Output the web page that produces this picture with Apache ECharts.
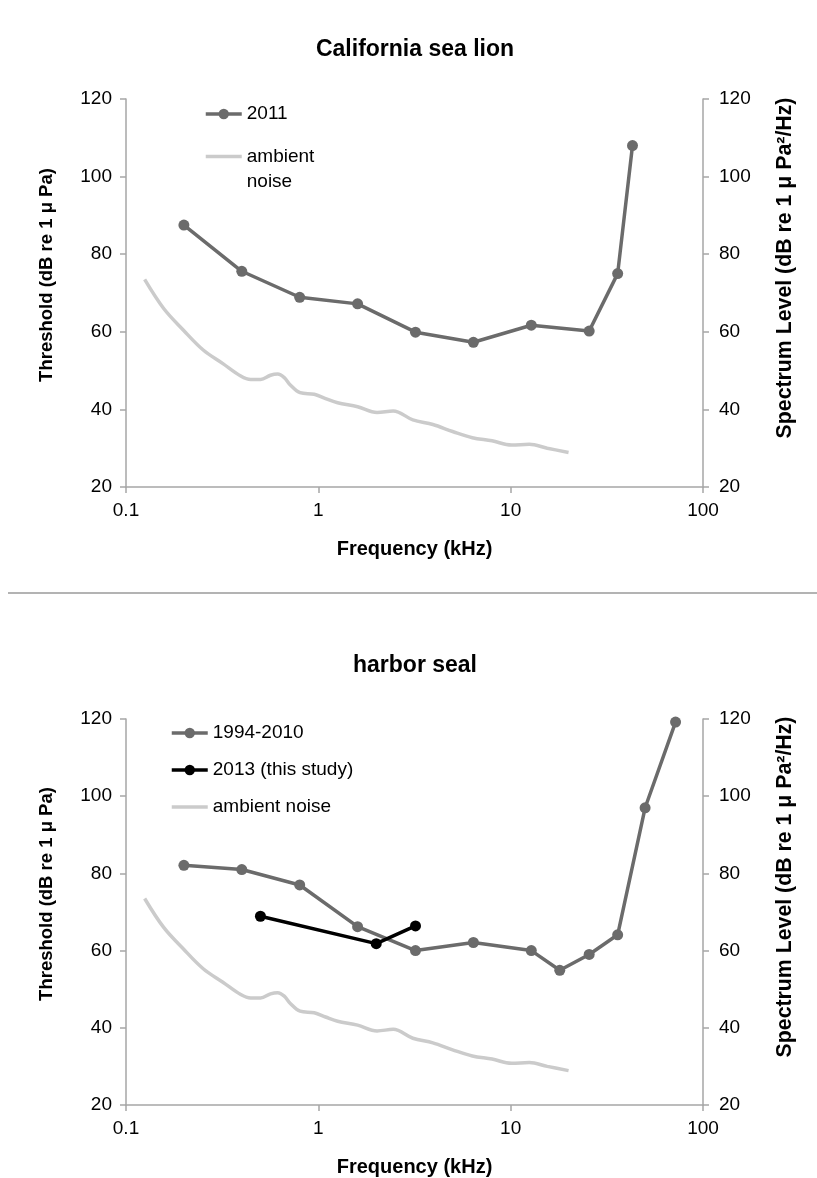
<!DOCTYPE html>
<html>
<head>
<meta charset="utf-8">
<script src="https://cdn.jsdelivr.net/npm/echarts@6/dist/echarts.min.js"></script>
<style>
  html, body { margin: 0; padding: 0; background: #fff; }
  #chart { width: 817px; height: 1178px; }
</style>
</head>
<body>
<div id="chart"></div>
<script>
// Hearing thresholds (dB re 1 µPa) and ambient noise spectrum level, by frequency (kHz)
const seaLionFreq = [0.2, 0.4, 0.8, 1.6, 3.2, 6.4, 12.8, 25.6, 36, 43];
const seaLion2011 = [87.5, 75.6, 68.9, 67.2, 59.9, 57.3, 61.7, 60.2, 75.0, 108];

const sealFreq = [0.2, 0.4, 0.8, 1.6, 3.2, 6.4, 12.8, 18, 25.6, 36, 50, 72];
const seal1994to2010 = [82.1, 81.0, 77.0, 66.2, 60.0, 62.1, 60.0, 54.9, 59.0, 64.1, 97.0, 119.2];

const seal2013Freq = [0.5, 2, 3.2];
const seal2013 = [68.9, 61.8, 66.4];

const noiseFreq = [0.125, 0.157, 0.199, 0.252, 0.319, 0.395, 0.445, 0.501, 0.564, 0.615,
                   0.665, 0.715, 0.804, 0.952, 1.09, 1.26, 1.6, 2.02, 2.45, 3.1,
                   3.94, 4.99, 6.32, 8.0, 10.1, 12.5, 15.5, 20];
const noiseLevel = [73.5, 66.0, 60.4, 55.3, 51.8, 48.6, 47.7, 47.7, 48.8, 49.1,
                    48.2, 46.3, 44.3, 43.9, 42.8, 41.7, 40.7, 39.2, 39.6, 37.3,
                    36.1, 34.3, 32.7, 31.9, 30.8, 31.0, 30.0, 28.9];

const panelTitles = ['California sea lion', 'harbor seal'];
const xAxisTitle = 'Frequency (kHz)';
const leftAxisTitle = 'Threshold (dB re 1 μ Pa)';
const rightAxisTitle = 'Spectrum Level (dB re 1 μ Pa²/Hz)';

const pairs = (xs, ys) => xs.map((x, i) => [x, ys[i]]);

const FONT = '"Liberation Sans", Arial, sans-serif';
const AXIS_GRAY = '#a6a6a6';
const DARK_GRAY = '#6b6b6b';
const LIGHT_GRAY = '#cbcbcb';

const gridTops = [99, 719];

function xAxisFor(gridIndex) {
  return {
    type: 'log', logBase: 10, min: 0.1, max: 100, gridIndex,
    name: xAxisTitle, nameLocation: 'middle', nameGap: 52,
    nameTextStyle: { fontFamily: FONT, fontWeight: 'bold', fontSize: 20, color: '#000' },
    axisLine: { show: true, lineStyle: { color: AXIS_GRAY, width: 1.5 } },
    axisTick: { show: true, inside: false, length: 6, lineStyle: { color: AXIS_GRAY, width: 1.5 } },
    minorTick: { show: false },
    splitLine: { show: false },
    axisLabel: { fontFamily: FONT, fontSize: 19, color: '#000', margin: 14,
                 formatter: v => String(+v.toPrecision(3)) }
  };
}

function yAxisFor(gridIndex, side) {
  const left = side === 'left';
  return {
    type: 'value', min: 20, max: 120, interval: 20, gridIndex, position: side,
    name: left ? leftAxisTitle : rightAxisTitle,
    nameLocation: 'middle', nameRotate: 90,
    nameGap: left ? 70 : 72,
    // extra leading padding lifts the rotated titles a little above the axis midpoint
    nameTextStyle: { fontFamily: FONT, fontWeight: 'bold', fontSize: left ? 18.5 : 21.3, color: '#000',
                     padding: left ? [0, 0, 0, 36] : [0, 0, 0, 50] },
    axisLine: { show: true, lineStyle: { color: AXIS_GRAY, width: 1.5 } },
    axisTick: { show: true, inside: false, length: 6, lineStyle: { color: AXIS_GRAY, width: 1.5 } },
    splitLine: { show: false },
    axisLabel: { fontFamily: FONT, fontSize: 19, color: '#000', margin: left ? 14 : 16 }
  };
}

const thresholdLine = (name, color, data, xi, yi, z) => ({
  name, type: 'line', xAxisIndex: xi, yAxisIndex: yi, data, z,
  symbol: 'circle', symbolSize: 11,
  lineStyle: { color, width: 3.5 },
  itemStyle: { color },
  emphasis: { disabled: true }, animation: false
});

const noiseLine = (xi, yi) => ({
  name: 'ambient noise', type: 'line', xAxisIndex: xi, yAxisIndex: yi,
  data: pairs(noiseFreq, noiseLevel), smooth: 0.35, symbol: 'none', z: 1,
  lineStyle: { color: LIGHT_GRAY, width: 3.5 },
  itemStyle: { color: LIGHT_GRAY },
  emphasis: { disabled: true }, animation: false
});

const legendText = { fontFamily: FONT, fontSize: 19, color: '#000', lineHeight: 22 };
const noiseKey = { name: 'ambient noise', itemStyle: { opacity: 0 } };
const legendBase = {
  padding: 0, itemWidth: 36, itemHeight: 13, itemGap: 15, selectedMode: false,
  lineStyle: { width: 3.5 }, textStyle: legendText
};

const chart = echarts.init(document.getElementById('chart'), null, { renderer: 'canvas' });
chart.setOption({
  backgroundColor: '#fff',
  animation: false,
  title: panelTitles.map((t, i) => ({
    text: t, left: 415, top: i === 0 ? 38 : 654, textAlign: 'center', padding: 0,
    textStyle: { fontFamily: FONT, fontWeight: 'bold', fontSize: 23, color: '#000' }
  })),
  legend: [
    Object.assign({}, legendBase, { data: ['2011'], left: 204, top: 103 }),
    // blank first line keeps the key beside "ambient" while "noise" wraps below
    Object.assign({}, legendBase, { data: [noiseKey], left: 204, top: 119,
      formatter: () => '\nambient\nnoise',
      textStyle: Object.assign({}, legendText, { lineHeight: 25 }) }),
    Object.assign({}, legendBase, {
      data: ['1994-2010', '2013 (this study)', noiseKey], left: 170, top: 722, orient: 'vertical' })
  ],
  grid: gridTops.map(top => ({ left: 126, right: 114, top, height: 388, containLabel: false })),
  xAxis: [xAxisFor(0), xAxisFor(1)],
  yAxis: [yAxisFor(0, 'left'), yAxisFor(0, 'right'), yAxisFor(1, 'left'), yAxisFor(1, 'right')],
  series: [
    noiseLine(0, 1),
    thresholdLine('2011', DARK_GRAY, pairs(seaLionFreq, seaLion2011), 0, 0, 3),
    noiseLine(1, 3),
    thresholdLine('1994-2010', DARK_GRAY, pairs(sealFreq, seal1994to2010), 1, 2, 3),
    thresholdLine('2013 (this study)', '#000', pairs(seal2013Freq, seal2013), 1, 2, 4)
  ],
  graphic: [{
    type: 'line', silent: true,
    shape: { x1: 8, y1: 593, x2: 817, y2: 593 },
    style: { stroke: '#9a9a9a', lineWidth: 1.5 }
  }]
});
</script>
</body>
</html>
